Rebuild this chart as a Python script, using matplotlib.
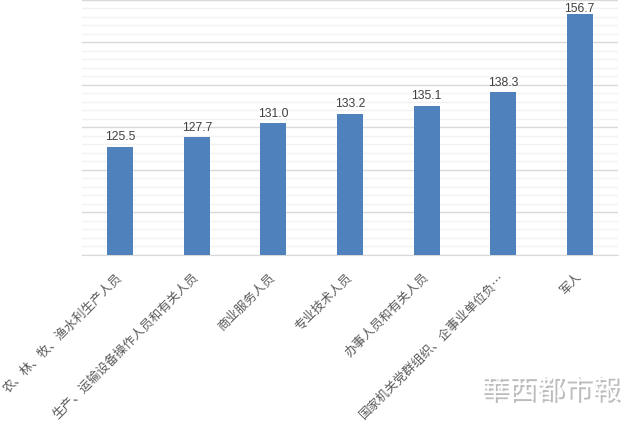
import matplotlib
matplotlib.use("Agg")
import matplotlib.pyplot as plt
import matplotlib.patheffects as pe
from matplotlib.ticker import MultipleLocator

plt.rcParams['font.family'] = ['Noto Sans CJK SC', 'DejaVu Sans']

# 数据
categorias = [
    "农、林、牧、渔水利生产人员",
    "生产、运输设备操作人员和有关人员",
    "商业服务人员",
    "专业技术人员",
    "办事人员和有关人员",
    "国家机关党群组织、企事业单位负…",
    "军人",
]
valores = [125.5, 127.7, 131.0, 133.2, 135.1, 138.3, 156.7]

fig = plt.figure(figsize=(6.34, 4.27), dpi=100)
ax = fig.add_axes([0.1293, 0.4005, 0.8455, 0.5972])

x = list(range(len(categorias)))
barras = ax.bar(x, valores, width=0.34, color="#4f81bd", zorder=3)

# Etiquetas de valores (dentro del área del gráfico)
for xi, v in zip(x, valores):
    ax.text(xi, min(v + 1.1, 156.6), f"{v:.1f}", ha="center", va="bottom",
            fontsize=8.7, color="#404040", family="Liberation Sans", zorder=4)

ax.set_ylim(100, 160)
ax.set_xlim(-0.5, len(categorias) - 0.5)

ax.yaxis.set_major_locator(MultipleLocator(10))
ax.yaxis.set_minor_locator(MultipleLocator(2))
ax.grid(axis="y", which="major", color="#d9d9d9", linewidth=1, zorder=0)
ax.grid(axis="y", which="minor", color="#f2f2f2", linewidth=1, zorder=0)
ax.tick_params(axis="y", which="both", left=False, labelleft=False)

for lado in ["top", "right", "left"]:
    ax.spines[lado].set_visible(False)
ax.spines["bottom"].set_color("#d9d9d9")

ax.set_xticks(x)
ax.set_xticklabels(categorias, rotation=45, ha="right", va="center",
                   rotation_mode="anchor", fontsize=9, color="#595959")
ax.tick_params(axis="x", length=0, pad=14)

# Marca de agua
fig.text(0.868, 0.083, "華西都市報", ha="center", va="center",
         fontsize=20, color="white", family="Noto Sans CJK TC",
         path_effects=[pe.withSimplePatchShadow(offset=(1.5, -1.5),
                                                shadow_rgbFace="#a0a0a0",
                                                alpha=0.7)])

fig.savefig("out.png", dpi=100)
